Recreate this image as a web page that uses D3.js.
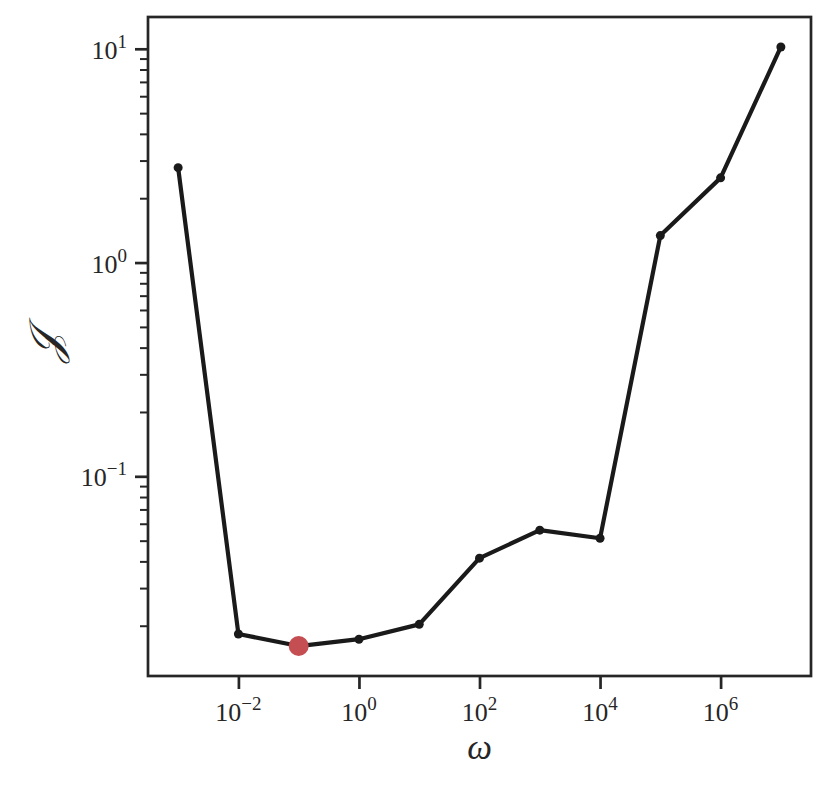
<!DOCTYPE html>
<html><head><meta charset="utf-8">
<script src="https://cdn.jsdelivr.net/npm/d3@7"></script>
<style>body{margin:0;background:#fff}svg{display:block}</style>
</head><body>
<svg id="c" width="829" height="788"></svg>
<script>
const omega = [1e-3,1e-2,1e-1,1e0,1e1,1e2,1e3,1e4,1e5,1e6,1e7];
const J = [2.78,0.0183,0.01607,0.0173,0.0203,0.0414,0.056,0.0513,1.337,2.49,10.2];
const bestIndex = 2;
const xTickExps = [-2,0,2,4,6];
const yTickExps = [-1,0,1];

const svg = d3.select("#c");
const L=148,R=811,T=17,B=676;
const textColor="#262626", font="'Liberation Serif', serif";
const x = d3.scaleLog().domain([Math.pow(10,-3.5),Math.pow(10,7.5)]).range([L,R]);
const lmin=Math.log10(d3.min(J)), lmax=Math.log10(d3.max(J)), m=(lmax-lmin)*0.05;
const y = d3.scaleLog().domain([Math.pow(10,lmin-m),Math.pow(10,lmax+m)]).range([B,T]);

function sup(e){return e<0?"\u2212"+(-e):String(e);}

// x axis
const xa = svg.append("g").attr("transform",`translate(0,${B})`)
  .call(d3.axisBottom(x).tickValues(xTickExps.map(e=>Math.pow(10,e))).tickSize(13).tickFormat(""));
xa.select(".domain").remove();
xa.selectAll(".tick line").attr("stroke",textColor).attr("stroke-width",2.7);
xTickExps.forEach(e=>{
  const t=svg.append("text").attr("x",x(Math.pow(10,e))).attr("y",721).attr("text-anchor","middle")
    .style("font-family",font).style("font-size","26px").attr("fill",textColor);
  t.append("tspan").text("10");
  t.append("tspan").attr("dy",-11).style("font-size","19px").text(sup(e));
});

// y axis
const [d0,d1]=y.domain();
const minor=[];
for(let e=Math.floor(Math.log10(d0));e<=Math.ceil(Math.log10(d1));e++){
  for(let k=2;k<=9;k++){const v=k*Math.pow(10,e); if(v>=d0&&v<=d1) minor.push(v);}
}
const yaMinor = svg.append("g").attr("transform",`translate(${L},0)`)
  .call(d3.axisLeft(y).tickValues(minor).tickSize(8).tickFormat(""));
yaMinor.select(".domain").remove();
yaMinor.selectAll(".tick line").attr("stroke",textColor).attr("stroke-width",2);
const ya = svg.append("g").attr("transform",`translate(${L},0)`)
  .call(d3.axisLeft(y).tickValues(yTickExps.map(e=>Math.pow(10,e))).tickSize(13).tickFormat(""));
ya.select(".domain").remove();
ya.selectAll(".tick line").attr("stroke",textColor).attr("stroke-width",2.7);
yTickExps.forEach(e=>{
  const t=svg.append("text").attr("x",127).attr("y",y(Math.pow(10,e))+10).attr("text-anchor","end")
    .style("font-family",font).style("font-size","26px").attr("fill",textColor);
  t.append("tspan").text("10");
  t.append("tspan").attr("dy",-11).style("font-size","19px").text(sup(e));
});

// line
const line=d3.line().x((d,i)=>x(omega[i])).y(d=>y(d));
svg.append("path").datum(J).attr("d",line).attr("fill","none").attr("stroke","#1a1a1a")
  .attr("stroke-width",4.2).attr("stroke-linejoin","round");
svg.selectAll("circle.pt").data(J).enter().append("circle").attr("class","pt")
  .attr("cx",(d,i)=>x(omega[i])).attr("cy",d=>y(d)).attr("r",4.5).attr("fill","#1a1a1a");
svg.append("circle").attr("cx",x(omega[bestIndex])).attr("cy",y(J[bestIndex])).attr("r",10).attr("fill","#c44e52");

// frame
svg.append("rect").attr("x",L).attr("y",T).attr("width",R-L).attr("height",B-T)
  .attr("fill","none").attr("stroke",textColor).attr("stroke-width",2.7);

// labels
svg.append("text").attr("x",(L+R)/2).attr("y",759).attr("text-anchor","middle")
  .style("font-family",font).attr("font-style","italic").style("font-size","35px").attr("fill",textColor).text("ω");
svg.append("text").attr("transform",`translate(60,${(T+B)/2}) rotate(-90)`).attr("text-anchor","middle")
  .style("font-family",font).attr("font-style","italic").style("font-size","44px").attr("fill",textColor).text("𝒥");
</script>
</body></html>
